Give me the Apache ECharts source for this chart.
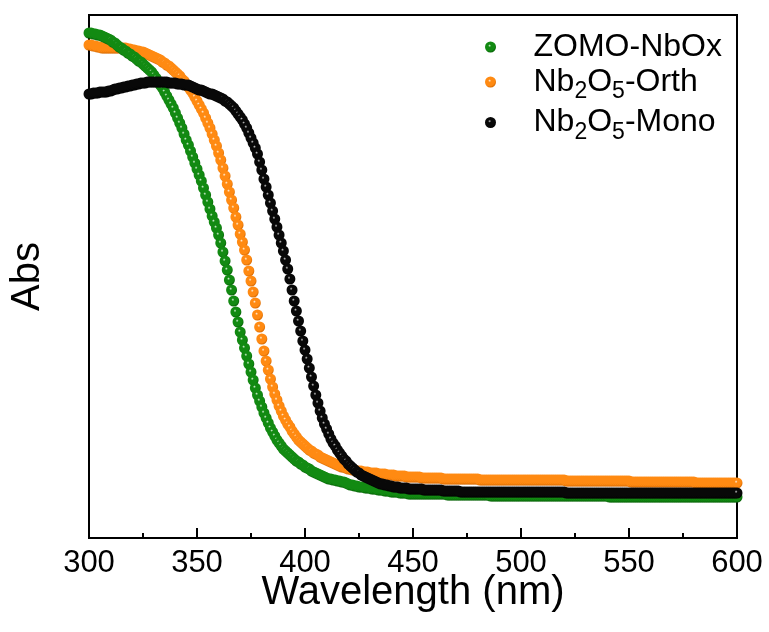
<!DOCTYPE html>
<html>
<head>
<meta charset="utf-8">
<title>UV-vis absorption spectra</title>
<script src="https://cdn.jsdelivr.net/npm/echarts@6/dist/echarts.min.js"></script>
<style>
  html, body { margin: 0; padding: 0; background: #fff; }
  #chart { width: 769px; height: 632px; }
</style>
</head>
<body>
<div id="chart"></div>
<script>
// Wavelength grid of the spectra (nm): one reading per nanometre from 300 nm
const wlStart = 300;
const wlStep = 1;

// Axis ticks
const xTicks = { min: 300, max: 600, interval: 50 };

// Absorbance (arbitrary units), one value per nanometre, 300-600 nm
const zomoNbOx = [
  505,505,504,504,503,503,502,501,500,499,
  498,496,495,493,491,490,488,487,485,484,
  482,481,479,477,476,474,472,470,468,466,
  463,460,457,453,450,446,442,438,434,430,
  425,420,415,410,404,398,393,387,381,375,
  369,363,357,350,343,336,329,322,316,310,
  303,295,286,277,268,258,248,237,226,216,
  206,198,190,182,174,166,158,150,143,137,
  131,125,120,115,110,106,102,98,95,92,
  89,87,85,83,81,79,77,76,74,73,
  71,70,69,67,66,65,64,63,62,61,
  60,59,59,58,58,57,57,56,56,55,
  54,53,53,52,52,51,51,51,50,50,
  50,49,49,49,48,48,48,47,47,47,
  46,46,46,46,45,45,45,45,44,44,
  44,44,44,44,44,44,44,44,44,44,
  44,44,44,44,44,44,43,43,43,43,
  43,43,43,43,43,43,43,43,43,43,
  43,43,43,43,43,43,42,42,42,42,
  42,42,42,42,42,42,42,42,42,42,
  42,42,42,42,42,42,42,42,42,42,
  42,42,42,42,42,42,42,42,42,42,
  42,42,42,42,42,42,42,42,42,42,
  42,42,42,42,42,42,42,42,42,42,
  42,41,41,41,41,41,41,41,41,41,
  41,41,41,41,41,41,41,41,41,41,
  41,41,41,41,41,41,41,41,41,41,
  41,41,41,41,41,41,41,41,41,41,
  41,41,41,41,41,41,41,41,41,41,
  41,41,41,41,41,41,41,41,41,41,
  41
];

const nb2o5Orth = [
  493,493,492,492,491,491,490,490,490,490,
  490,490,490,490,490,490,490,490,489,489,
  488,488,487,487,486,486,485,484,483,482,
  481,480,479,478,476,475,473,472,470,468,
  466,464,462,459,457,454,451,448,445,441,
  437,433,429,425,420,415,410,404,398,392,
  385,378,370,362,354,346,338,330,321,313,
  304,296,288,278,267,257,246,235,223,211,
  199,187,177,168,159,151,144,138,132,127,
  122,118,114,111,107,104,101,98,96,94,
  92,90,88,87,85,84,83,81,80,79,
  78,77,76,75,74,73,72,71,71,70,
  69,69,68,68,67,67,67,66,66,66,
  65,65,65,65,64,64,64,64,63,63,
  63,63,62,62,62,62,62,61,61,61,
  61,61,61,61,60,60,60,60,60,60,
  60,60,60,60,59,59,59,59,59,59,
  59,59,59,59,59,59,59,59,59,59,
  59,58,58,58,58,58,58,58,58,58,
  58,58,58,58,58,58,58,58,58,58,
  58,58,58,58,58,58,58,58,58,58,
  58,58,58,58,58,58,58,58,58,58,
  58,57,57,57,57,57,57,57,57,57,
  57,57,57,57,57,57,57,57,57,57,
  57,57,57,57,57,57,57,57,57,57,
  57,56,56,56,56,56,56,56,56,56,
  56,56,56,56,56,56,56,56,56,56,
  56,56,56,56,56,56,56,56,56,56,
  56,55,55,55,55,55,55,55,55,55,
  55,55,55,55,55,55,55,55,55,55,
  55
];

const nb2o5Mono = [
  444,444,445,445,445,446,446,446,446,447,
  447,448,449,449,450,450,451,451,452,452,
  453,453,454,454,455,455,455,456,456,456,
  456,456,456,456,456,456,456,455,455,455,
  455,454,454,454,453,453,453,452,451,450,
  449,448,448,447,446,445,444,444,443,442,
  441,440,439,437,436,434,432,430,427,424,
  421,418,414,410,405,400,395,390,384,376,
  368,359,351,343,335,327,319,311,303,295,
  287,278,269,259,248,237,227,217,207,197,
  188,179,170,161,152,143,135,127,120,114,
  109,104,99,95,92,88,85,82,79,77,
  74,72,70,68,66,65,63,62,61,60,
  59,58,57,56,55,54,54,53,53,52,
  52,51,51,51,50,50,50,50,49,49,
  49,49,49,49,49,48,48,48,48,48,
  48,48,48,48,47,47,47,47,47,47,
  47,47,46,46,46,46,46,46,46,46,
  46,46,46,46,46,46,46,46,46,46,
  46,46,46,46,46,46,46,46,46,46,
  46,46,46,46,46,46,46,46,46,46,
  46,46,46,46,46,46,46,46,46,46,
  46,45,45,45,45,45,45,45,45,45,
  45,45,45,45,45,45,45,45,45,45,
  45,45,45,45,45,45,45,45,45,45,
  45,45,45,45,45,45,45,45,45,45,
  45,45,45,45,45,45,45,45,45,45,
  45,45,45,45,45,45,45,45,45,45,
  45,45,45,45,45,45,45,45,45,45,
  45,45,45,45,45,45,45,45,45,45,
  45
];

const seriesNames = ['ZOMO-NbOx', 'Nb2O5-Orth', 'Nb2O5-Mono'];

// Shaded "ball" fill for the markers
function ball(light, base, dark) {
  return {
    type: 'radial', x: 0.42, y: 0.38, r: 0.62,
    colorStops: [
      { offset: 0, color: light },
      { offset: 0.22, color: base },
      { offset: 0.75, color: base },
      { offset: 1, color: dark }
    ]
  };
}

const styles = [
  { fill: ball('#d9f2d9', '#128a12', '#056205'), z: 3 },
  { fill: ball('#fff0dc', '#ff8a12', '#d86a00'), z: 2 },
  { fill: ball('#c8c8c8', '#080808', '#000000'), z: 4 }
];

const datasets = [zomoNbOx, nb2o5Orth, nb2o5Mono];

function toPoints(values) {
  return values.map((v, i) => [wlStart + i * wlStep, v]);
}

const FONT = 'Liberation Sans, Arial, Helvetica, sans-serif';

const chart = echarts.init(document.getElementById('chart'), null, { renderer: 'canvas' });

chart.setOption({
  animation: false,
  backgroundColor: '#ffffff',
  grid: {
    left: 88, right: 32, top: 15, bottom: 94,
    show: true, borderColor: '#000', borderWidth: 2,
    backgroundColor: 'transparent'
  },
  legend: {
    orient: 'vertical',
    left: 480, top: 26,
    itemWidth: 76, itemHeight: 11,
    itemGap: 3,
    icon: 'circle',
    symbolKeepAspect: true,
    data: seriesNames,
    // digits in the formulas are set as subscripts
    formatter: function (name) {
      return name.replace(/(\d)/g, '{sub|$1}');
    },
    textStyle: {
      fontFamily: FONT, fontSize: 32, color: '#000', lineHeight: 31,
      rich: {
        sub: {
          fontFamily: FONT, fontSize: 23, color: '#000',
          lineHeight: 31, verticalAlign: 'top', padding: [14, 0, 0, 0]
        }
      }
    }
  },
  xAxis: {
    type: 'value',
    min: xTicks.min, max: xTicks.max, interval: xTicks.interval,
    name: 'Wavelength (nm)',
    nameLocation: 'middle',
    nameGap: 35,
    nameMoveOverlap: false,
    nameTextStyle: { fontFamily: FONT, fontSize: 40, color: '#000' },
    axisLine: { show: true, lineStyle: { color: '#000', width: 2 } },
    axisTick: { show: true, inside: true, length: 10, lineStyle: { color: '#000', width: 2 } },
    minorTick: { show: true, splitNumber: 2, length: 5, lineStyle: { color: '#000', width: 2 } },
    axisLabel: { fontFamily: FONT, fontSize: 31, color: '#000', margin: 10 },
    splitLine: { show: false },
    minorSplitLine: { show: false }
  },
  yAxis: {
    type: 'value',
    min: 0, max: 523,
    name: 'Abs',
    nameLocation: 'middle',
    nameGap: 41,
    nameMoveOverlap: false,
    nameRotate: 90,
    nameTextStyle: { fontFamily: FONT, fontSize: 40, color: '#000' },
    axisLine: { show: true, lineStyle: { color: '#000', width: 2 } },
    axisTick: { show: false },
    axisLabel: { show: false },
    splitLine: { show: false }
  },
  series: datasets.map((vals, k) => ({
    name: seriesNames[k],
    type: 'scatter',
    symbol: 'circle',
    symbolSize: 11,
    z: styles[k].z,
    itemStyle: { color: styles[k].fill, opacity: 1 },
    emphasis: { disabled: true },
    data: toPoints(vals)
  }))
});
</script>
</body>
</html>
